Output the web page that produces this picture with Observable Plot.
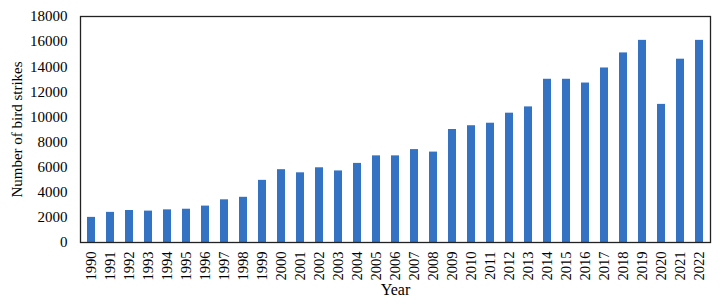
<!DOCTYPE html>
<html>
<head>
<meta charset="utf-8">
<script src="https://cdn.jsdelivr.net/npm/d3@7"></script>
<script src="https://cdn.jsdelivr.net/npm/@observablehq/plot@0.6"></script>
<style>
  html, body { margin: 0; padding: 0; background: #fff; }
</style>
</head>
<body>
<div id="chart"></div>
<script>
const years = [1990,1991,1992,1993,1994,1995,1996,1997,1998,1999,2000,2001,2002,2003,2004,2005,2006,2007,2008,2009,2010,2011,2012,2013,2014,2015,2016,2017,2018,2019,2020,2021,2022];
const strikes = [2000,2400,2550,2500,2600,2650,2900,3400,3600,4950,5800,5550,5950,5700,6300,6900,6900,7400,7200,9000,9300,9500,10300,10800,13000,13000,12700,13900,15100,16100,11000,14600,16100];
const yTicks = [0,2000,4000,6000,8000,10000,12000,14000,16000,18000];

const data = years.map((y, i) => ({year: String(y), value: strikes[i]}));

const chart = Plot.plot({
  width: 721,
  height: 308,
  marginLeft: 80,
  marginRight: 11,
  marginTop: 16,
  marginBottom: 66,
  style: {fontFamily: "'Liberation Serif', 'Times New Roman', serif", fontSize: "14px", color: "#000", background: "#fff"},
  x: {type: "band", domain: years.map(String), paddingInner: 0.58, paddingOuter: 0.29},
  y: {domain: [0, 18000]},
  marks: [
    Plot.barY(data, {x: "year", y: "value", fill: "#3472C4"}),
    Plot.axisY({ticks: yTicks, tickFormat: d => String(d), tickSize: 0, tickPadding: 13, label: null, fontSize: 15}),
    Plot.axisX({tickSize: 0, tickRotate: -90, tickPadding: 9, label: null, fontSize: 14.5}),
    Plot.frame({stroke: "#222", strokeWidth: 1.3}),
    Plot.text(["Number of bird strikes"], {frameAnchor: "left", textAnchor: "middle", dx: -63, rotate: -90, fontSize: 15, fill: "#000"}),
    Plot.text(["Year"], {frameAnchor: "bottom", dy: 52, fontSize: 16, fill: "#000"})
  ]
});
document.getElementById("chart").appendChild(chart);
</script>
</body>
</html>
